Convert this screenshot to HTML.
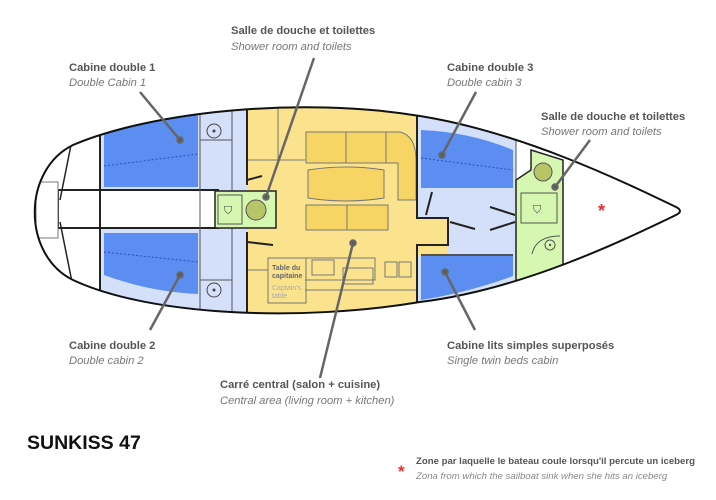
<!DOCTYPE html>
<html><head><meta charset="utf-8"><style>
html,body{margin:0;padding:0;background:#fff}
svg{display:block}
text{font-family:"Liberation Sans",sans-serif}
.b{font-weight:bold;fill:#555;font-size:11.2px}
.i{font-style:italic;fill:#777;font-size:11.2px}
</style></head><body>
<svg width="716" height="500" viewBox="0 0 716 500" xmlns="http://www.w3.org/2000/svg">
<defs>
<clipPath id="h"><path id="hp" d="M73,145 C150,112 300,96 420,116 C520,132 620,180 676,207 Q684,211 676,215 C620,242 520,290 420,302 C300,322 150,316 73,280 C22,255 22,170 73,145 Z"/></clipPath>
</defs>
<g clip-path="url(#h)">
<rect x="0" y="0" width="716" height="500" fill="#fff"/>
<rect x="100" y="90" width="147" height="240" fill="#d4e0fa"/>
<path d="M104,132 Q150,118 198,114 L198,187 L104,187 Z" fill="#5b8ef0"/>
<path d="M104,233 L198,233 L198,294 Q150,292 104,275 Z" fill="#5b8ef0"/>
<line x1="104" y1="166" x2="198" y2="154" stroke="#2a4fc0" stroke-dasharray="2,2"/>
<line x1="104" y1="252" x2="198" y2="262" stroke="#2a4fc0" stroke-dasharray="2,2"/>
<rect x="58" y="190" width="160" height="38" fill="#fff" stroke="#222" stroke-width="2"/>
<line x1="200" y1="100" x2="200" y2="320" stroke="#555" stroke-width="1"/>
<line x1="232" y1="100" x2="232" y2="320" stroke="#555" stroke-width="1"/>
<line x1="200" y1="140" x2="232" y2="140" stroke="#555"/>
<line x1="200" y1="280" x2="232" y2="280" stroke="#555"/>
<circle cx="214" cy="131" r="7" fill="none" stroke="#444"/><circle cx="214" cy="131" r="1.5" fill="#444"/>
<circle cx="214" cy="290" r="7" fill="none" stroke="#444"/><circle cx="214" cy="290" r="1.5" fill="#444"/>
<line x1="100" y1="100" x2="100" y2="320" stroke="#222" stroke-width="2"/>
<path d="M72,140 L60,200 M60,222 L72,282" stroke="#222" stroke-width="1.5" fill="none"/>
<rect x="36" y="182" width="22" height="56" fill="#fff" stroke="#777"/>
<rect x="247" y="90" width="170" height="240" fill="#fbe38d"/>
<rect x="417" y="218" width="31" height="37" fill="#fbe38d"/>
<g fill="#f7d565" stroke="#777" stroke-width="1">
<rect x="306" y="132" width="40" height="31"/><rect x="346" y="132" width="40" height="31"/>
<path d="M386,132 L400,132 Q416,136 416,160 L416,200 L398,200 L398,163 L386,163 Z"/>
<path d="M308,170 Q346,164 384,170 L384,198 Q346,204 308,198 Z"/>
<rect x="306" y="205" width="41" height="25"/><rect x="347" y="205" width="41" height="25"/>
</g>
<g fill="none" stroke="#777">
<line x1="247" y1="160" x2="305" y2="160"/><line x1="278" y1="105" x2="278" y2="160"/>
<rect x="268" y="258" width="38" height="45"/>
<path d="M305,258 L375,258 L375,280 L305,280"/>
<rect x="312" y="260" width="22" height="15"/>
<rect x="343" y="268" width="30" height="16"/>
<rect x="385" y="262" width="12" height="15"/><rect x="399" y="262" width="12" height="15"/>
<line x1="305" y1="290" x2="417" y2="290"/>
<line x1="247" y1="270" x2="268" y2="270"/>
</g>
<text x="272" y="270" font-size="7" font-weight="bold" fill="#666">Table du</text>
<text x="272" y="278" font-size="7" font-weight="bold" fill="#666">capitaine</text>
<text x="272" y="290" font-size="7" fill="#aaa">Captain's</text>
<text x="272" y="298" font-size="7" fill="#aaa">table</text>
<rect x="215" y="191" width="61" height="37" fill="#d6f7b0" stroke="#222" stroke-width="1.5"/>
<rect x="218" y="195" width="24" height="29" fill="none" stroke="#555"/>
<text x="224" y="214" font-size="11" fill="#444">⛉</text>
<circle cx="256" cy="210" r="10" fill="#b8c468" stroke="#555"/>
<path d="M247,180 L262,176 M247,242 L273,245" stroke="#222" stroke-width="2"/>
<line x1="247" y1="100" x2="247" y2="185" stroke="#222" stroke-width="2"/>
<line x1="247" y1="232" x2="247" y2="320" stroke="#222" stroke-width="2"/>
<rect x="417" y="90" width="99" height="128" fill="#d4e0fa"/>
<rect x="448" y="218" width="68" height="37" fill="#d4e0fa"/>
<rect x="417" y="255" width="99" height="70" fill="#d4e0fa"/>
<path d="M421,130 Q470,132 513,150 L513,188 L421,188 Z" fill="#5b8ef0"/>
<line x1="421" y1="158" x2="513" y2="170" stroke="#2a4fc0" stroke-dasharray="2,2"/>
<path d="M421,256 L513,256 L513,276 Q470,292 421,300 Z" fill="#5b8ef0"/>
<line x1="421" y1="255" x2="513" y2="255" stroke="#222" stroke-width="1.5"/>
<path d="M417,100 L417,218 L448,218 L448,245 L417,245 L417,320" stroke="#222" stroke-width="2" fill="none"/>
<path d="M432,192 L426,215 M490,207 L515,215 M450,222 L475,229 M490,230 L515,222" stroke="#222" stroke-width="2"/>
<line x1="516" y1="140" x2="516" y2="180" stroke="#555"/>
<path d="M531,150 L563,160 L563,270 L516,282 L516,180 L531,170 Z" fill="#d6f7b0" stroke="#222" stroke-width="1.5"/>
<circle cx="543" cy="172" r="9" fill="#b8c468" stroke="#555"/>
<rect x="521" y="193" width="36" height="30" fill="none" stroke="#555"/>
<text x="533" y="213" font-size="11" fill="#444">⛉</text>
<path d="M532,254 Q536,236 560,236" fill="none" stroke="#555"/>
<circle cx="550" cy="245" r="5" fill="none" stroke="#555"/><circle cx="550" cy="245" r="1.2" fill="#555"/>
</g>
<use href="#hp" fill="none" stroke="#111" stroke-width="2"/>
<text x="598" y="217" fill="#e53030" font-size="18" font-weight="bold">*</text>
<g stroke="#666" stroke-width="2.5" fill="#555">
<line x1="140" y1="92" x2="180" y2="140"/><circle cx="180" cy="140" r="2.5"/>
<line x1="150" y1="330" x2="180" y2="275"/><circle cx="180" cy="275" r="2.5"/>
<line x1="314" y1="58" x2="266" y2="197"/><circle cx="266" cy="197" r="2.5"/>
<line x1="476" y1="92" x2="442" y2="155"/><circle cx="442" cy="155" r="2.5"/>
<line x1="590" y1="140" x2="555" y2="187"/><circle cx="555" cy="187" r="2.5"/>
<line x1="475" y1="330" x2="445" y2="272"/><circle cx="445" cy="272" r="2.5"/>
<line x1="320" y1="378" x2="353" y2="243"/><circle cx="353" cy="243" r="2.5"/>
</g>
<text class="b" x="69" y="71">Cabine double 1</text><text class="i" x="69" y="86">Double Cabin 1</text>
<text class="b" x="231" y="34">Salle de douche et toilettes</text><text class="i" x="231" y="50">Shower room and toilets</text>
<text class="b" x="447" y="71">Cabine double 3</text><text class="i" x="447" y="86">Double cabin 3</text>
<text class="b" x="541" y="120">Salle de douche et toilettes</text><text class="i" x="541" y="135">Shower room and toilets</text>
<text class="b" x="69" y="349">Cabine double 2</text><text class="i" x="69" y="364">Double cabin 2</text>
<text class="b" x="447" y="349">Cabine lits simples superposés</text><text class="i" x="447" y="364">Single twin beds cabin</text>
<text class="b" x="220" y="388">Carré central (salon + cuisine)</text><text class="i" x="220" y="404">Central area (living room + kitchen)</text>
<text x="27" y="449" font-size="19.5" font-weight="bold" fill="#111">SUNKISS 47</text>
<text x="398" y="477" fill="#e53030" font-size="17" font-weight="bold">*</text>
<text x="416" y="464" font-size="9.6" font-weight="bold" fill="#555">Zone par laquelle le bateau coule lorsqu'il percute un iceberg</text>
<text x="416" y="479" font-size="9.6" font-style="italic" fill="#888">Zona from which the sailboat sink when she hits an iceberg</text>
</svg>
</body></html>
